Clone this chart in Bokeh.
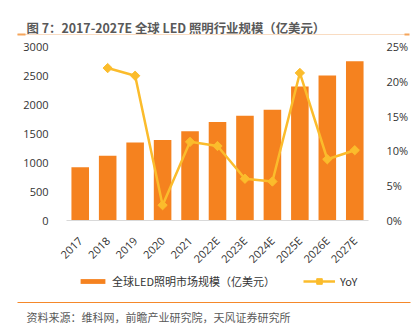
import numpy as np
from bokeh.plotting import figure
from bokeh.models import (ColumnDataSource, Range1d, LinearAxis, FixedTicker,
                          PrintfTickFormatter, Legend, LegendItem, Label)
from bokeh.embed import file_html
from bokeh.resources import INLINE

# ---- data ----
years = ["2017", "2018", "2019", "2020", "2021", "2022E", "2023E", "2024E", "2025E", "2026E", "2027E"]
market = [920, 1115, 1345, 1390, 1540, 1700, 1805, 1910, 2310, 2500, 2745]
yoy_years = ["2018", "2019", "2020", "2021", "2022E", "2023E", "2024E", "2025E", "2026E", "2027E"]
yoy = [21.9, 20.8, 2.2, 11.3, 10.7, 6.0, 5.6, 21.2, 8.8, 10.1]
left_ticks = [0, 500, 1000, 1500, 2000, 2500, 3000]
right_ticks = [0, 5, 10, 15, 20, 25]
left_max, right_max = 3000, 25

title_text = "图 7：2017-2027E 全球 LED 照明行业规模（亿美元）"
bar_label = "全球LED照明市场规模（亿美元）"
line_label = "YoY"
source_text = "资料来源：维科网，前瞻产业研究院，天风证券研究所"

# ---- layout constants (page pixels) ----
W, H = 411, 334
AL, AR, AT, AB = 66, 368, 46, 220      # edges of the plotting area
FONT = "Noto Sans CJK SC"
NUMFONT = "Open Sans"
BAR = "#F5821F"
LINE = "#FBBC2C"
TXT = "#333333"
GREY = "#595959"

n = len(years)
cw = (AR - AL) / n                    # pixels per category
xs = list(range(n))
yoy_x = [years.index(y) for y in yoy_years]
ppu = (AB - AT) / left_max             # pixels per left unit
ppu_r = (AB - AT) / right_max

# the whole canvas is the frame; ranges chosen so the plotting area sits at AL..AR / AT..AB
x_range = Range1d(-0.5 - AL / cw, n - 0.5 + (W - AR) / cw)
y_range = Range1d(-(H - AB) / ppu, left_max + AT / ppu)
r_range = Range1d(-(H - AB) / ppu_r, right_max + AT / ppu_r)

p = figure(width=W, height=H, x_range=x_range, y_range=y_range,
           x_axis_type=None, y_axis_type=None,
           output_backend="svg", toolbar_location=None, min_border=0)
p.outline_line_color = None
p.extra_y_ranges = {"yoy": r_range, "py": Range1d(H, 0)}
p.extra_x_ranges = {"px": Range1d(0, W)}

bsrc = ColumnDataSource(dict(x=xs, y=market))
lsrc = ColumnDataSource(dict(x=yoy_x, y=yoy))

bars = p.vbar(x="x", top="y", width=0.64, source=bsrc, fill_color=BAR, line_color=None)
line = p.line(x="x", y="y", source=lsrc, y_range_name="yoy", line_color=LINE, line_width=2.5)
marks = p.scatter(x="x", y="y", source=lsrc, y_range_name="yoy", marker="square", angle=np.pi / 4,
                  size=6.6, fill_color=LINE, line_color=LINE)


def style(ax):
    ax.major_tick_line_color = None
    ax.minor_tick_line_color = None
    ax.major_label_text_font = NUMFONT
    ax.major_label_text_font_size = "11px"
    ax.major_label_text_color = TXT


la = LinearAxis(ticker=FixedTicker(ticks=left_ticks), fixed_location=-0.5, axis_line_color=None,
                major_label_standoff=12)
style(la)
p.add_layout(la, "left")

ra = LinearAxis(y_range_name="yoy", ticker=FixedTicker(ticks=right_ticks), fixed_location=n - 0.5,
                formatter=PrintfTickFormatter(format="%d%%"), axis_line_color=None,
                major_label_standoff=12)
style(ra)
p.add_layout(ra, "right")

xa = LinearAxis(ticker=FixedTicker(ticks=xs), fixed_location=0, bounds=(-0.5, n - 0.5),
                major_label_overrides={i: y for i, y in enumerate(years)},
                axis_line_color="#D9D9D9", axis_line_width=1,
                major_label_orientation=np.pi / 4, major_label_standoff=12)
style(xa)
p.add_layout(xa, "below")

# ---- legend ----
LEG_H = 14
leg_loc_y = H - (281.5 + LEG_H / 2)
common = dict(orientation="horizontal", padding=0, margin=0, spacing=0, border_line_color=None,
              background_fill_alpha=0, label_height=LEG_H, label_text_font=FONT,
              label_text_font_size="11px", label_text_color=TXT)
leg1 = Legend(items=[LegendItem(label=bar_label, renderers=[bars])], location=(77, leg_loc_y),
              glyph_width=31, glyph_height=6, label_standoff=4, **common)
leg2 = Legend(items=[LegendItem(label=line_label, renderers=[line, marks])],
              location=(303, leg_loc_y), glyph_width=32, glyph_height=LEG_H, label_standoff=5, **common)
p.add_layout(leg1)
p.add_layout(leg2)

# ---- title, rules, source ----
p.add_layout(Label(x=26, y=27.8, x_range_name="px", y_range_name="py", text=title_text,
                   text_font=FONT, text_font_size="12.4px", text_font_style="bold",
                   text_color=GREY, text_baseline="alphabetic"))
p.segment(x0=[17], y0=[34], x1=[408], y1=[34], x_range_name="px", y_range_name="py",
          line_color="#F9DCC2", line_width=1)
p.segment(x0=[17, 404], y0=[34, 34], x1=[25, 409], y1=[34, 34], x_range_name="px",
          y_range_name="py", line_color="#F5A55B", line_width=2)
p.segment(x0=[17], y0=[302], x1=[410], y1=[302], x_range_name="px", y_range_name="py",
          line_color="#F5882A", line_width=1.2)
p.add_layout(Label(x=26, y=316.5, x_range_name="px", y_range_name="py", text=source_text,
                   text_font=FONT, text_font_size="11px", text_color=GREY, text_baseline="alphabetic"))

open("out.html", "w").write(file_html(p, INLINE))
